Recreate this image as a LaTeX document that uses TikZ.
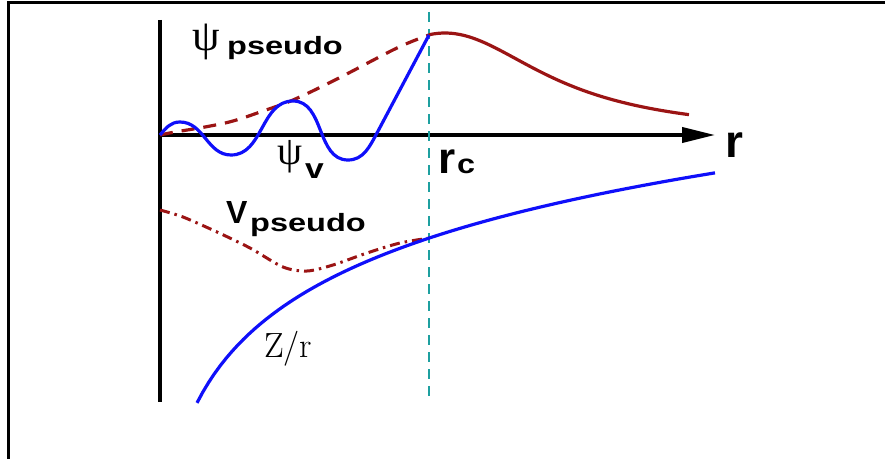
\documentclass[tikz,border=0pt]{standalone}
\usepackage{fontspec}
\usepackage{graphicx}
\usetikzlibrary{arrows.meta}
\newfontfamily\labsans{Liberation Sans}
\newfontfamily\greekfont{Liberation Serif}
\definecolor{psiblue}{RGB}{15,15,250}
\definecolor{darkred}{RGB}{155,20,20}
\definecolor{cutcyan}{RGB}{30,160,160}
\newcommand{\subtxt}[1]{{\labsans\bfseries\fontsize{25}{25}\selectfont\scalebox{1.3}[1]{#1}}}
\begin{document}
\begin{tikzpicture}[x=1pt,y=1pt,
  axisline/.style={line width=3.8pt,black},
  bluecurve/.style={line width=3.2pt,psiblue},
  redsolid/.style={line width=3.2pt,darkred},
  reddash/.style={line width=3.2pt,darkred,dash pattern=on 13pt off 9pt},
  reddashdot/.style={line width=3pt,darkred,dash pattern=on 10pt off 5pt on 2.5pt off 5pt},
  cutline/.style={line width=2.2pt,cutcyan,dash pattern=on 10pt off 7pt},
  lab/.style={inner sep=0pt,anchor=base west},
  glab/.style={inner sep=0pt,anchor=base},
]
\useasboundingbox (0,0) rectangle (885,459);
% frame
\draw[line width=3pt] (885,456) -- (8,456) -- (8,0);
% axes
\coordinate (O) at (160,324);
\coordinate (ytop) at (160,439);
\coordinate (ybot) at (160,57);
\coordinate (xend) at (715,324);
\coordinate (cuttop) at (429,447);
\coordinate (cutbot) at (429,56);
\draw[axisline] (ytop) -- (ybot);
\draw[axisline,-{Triangle[length=33pt,width=15pt]}] (O) -- (xend);
\draw[cutline] (cuttop) -- (cutbot);
% pseudo wavefunction
\draw[reddash] plot[smooth,tension=0.6] coordinates {(160,324) (175,327) (205,332) (233,338) (263,348) (293,359) (337,380) (397,411) (429,424)};
\draw[redsolid] plot[domain=429:689,samples=60] (\x,{324+102/(1+((\x-445)/121.8)^2)});
% valence wavefunction
\draw[bluecurve] (160,324) to[out=50,in=180] (180,337) to[out=0,in=180] (231,304) to[out=0,in=180] (293,358) to[out=0,in=180] (348,299) to[out=0,in=241.6] (377,326) -- (429,424);
% pseudo potential
\draw[reddashdot] plot[smooth] coordinates {(160,249) (183,242) (217,227) (250,211) (283,192) (307,188) (333,194) (367,206) (400,216) (430,221)};
% Z/r
\draw[bluecurve] plot[domain=197:715,samples=90] (\x,{92.5*ln(\x-150)-300});
% labels
\node[glab] (psiP) at (206,409) {\greekfont\fontsize{44}{44}\selectfont ψ};
\node[lab] (psiPsub) at (227,404) {\subtxt{pseudo}};
\node[glab] (psiV) at (290,295) {\greekfont\fontsize{40}{40}\selectfont ψ};
\node[lab] (psiVsub) at (305,281) {\labsans\bfseries\fontsize{28}{28}\selectfont\scalebox{1.2}[1]{v}};
\node[lab] (rc) at (438,286) {\labsans\bfseries\fontsize{44}{44}\selectfont r};
\node[lab] (rcsub) at (457,286) {\labsans\bfseries\fontsize{27}{27}\selectfont\scalebox{1.2}[1]{c}};
\node[lab] (rlab) at (725,302) {\labsans\bfseries\fontsize{46}{46}\selectfont r};
\node[lab] (Vlab) at (226,236) {\labsans\bfseries\fontsize{32}{32}\selectfont V};
\node[lab] (Vsub) at (250,228) {\subtxt{pseudo}};
\node[lab] (Zr) at (264,102) {\fontsize{35}{35}\selectfont Z/r};
\end{tikzpicture}
\end{document}
